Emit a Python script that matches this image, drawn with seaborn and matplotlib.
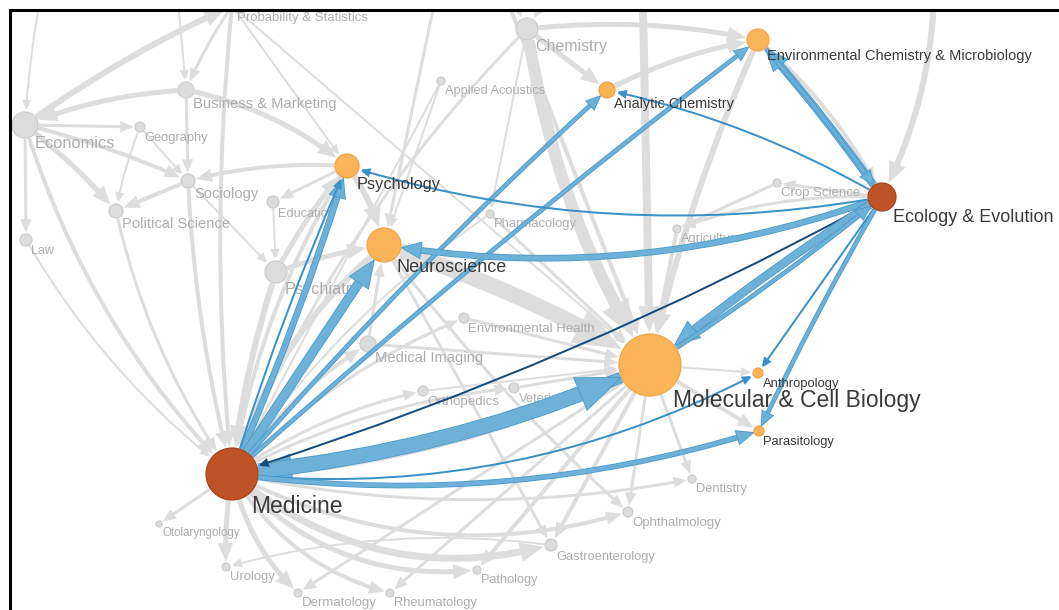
import numpy as np
import pandas as pd
import matplotlib
matplotlib.use("Agg")
import matplotlib.pyplot as plt
import seaborn as sns
from matplotlib.patches import FancyArrowPatch, ArrowStyle
import matplotlib.patheffects as pe

# ---------------- data ----------------
node_names = [
    "Probability & Statistics", "Business & Marketing", "Economics", "Geography",
    "Sociology", "Political Science", "Law", "Education", "Psychiatry", "Chemistry",
    "Applied Acoustics", "Pharmacology", "Crop Science", "Agriculture",
    "Environmental Health", "Medical Imaging", "Orthopedics", "Veterinary",
    "Dentistry", "Ophthalmology", "Gastroenterology", "Pathology", "Rheumatology",
    "Dermatology", "Urology", "Otolaryngology",
    "Environmental Chemistry & Microbiology", "Analytic Chemistry", "Psychology",
    "Neuroscience", "Molecular & Cell Biology", "Anthropology", "Parasitology",
    "Ecology & Evolution", "Medicine",
    "Mathematics", "Computer Science", "Physics", "Engineering", "Earth Sciences",
]
node_x = [232, 186, 25, 140, 188, 116, 26, 273, 276, 527,
          441, 490, 777, 677, 464, 368, 423, 514, 692, 628,
          551, 477, 390, 298, 226, 159,
          758, 607, 347, 384, 650, 758, 759, 882, 232,
          60, 170, 640, 460, 930]
node_y = [6, 90, 125, 127, 181, 211, 240, 202, 272, 29,
          81, 214, 183, 229, 318, 344, 391, 388, 479, 512,
          545, 570, 593, 593, 567, 524,
          40, 90, 166, 245, 365, 373, 431, 197, 474,
          -90, -90, -150, -120, -90]
node_size = [6, 8, 13, 5, 7, 7, 6, 6, 11, 11,
             4, 4, 4, 4, 5, 8, 5, 5, 4, 5,
             6, 4, 4, 4, 4, 3,
             11, 8, 12, 17, 31, 5, 5, 14, 26,
             0, 0, 0, 0, 0]
node_group = (["field"] * 26 + ["linked"] * 7 + ["focus"] * 2 + ["hidden"] * 5)

# gray (background) citation flows
gray_src = ["Economics", "Mathematics", "Computer Science", "Probability & Statistics",
            "Business & Marketing", "Business & Marketing", "Business & Marketing",
            "Economics", "Economics", "Economics", "Economics", "Geography", "Geography",
            "Sociology", "Psychology", "Sociology", "Psychology", "Education", "Psychiatry",
            "Psychiatry", "Psychology", "Law", "Economics", "Political Science", "Sociology",
            "Probability & Statistics", "Psychiatry", "Neuroscience", "Psychology", "Medicine",
            "Medical Imaging", "Neuroscience", "Chemistry", "Chemistry", "Chemistry",
            "Analytic Chemistry", "Chemistry", "Chemistry", "Applied Acoustics",
            "Probability & Statistics", "Probability & Statistics", "Physics", "Physics",
            "Engineering", "Engineering", "Earth Sciences",
            "Environmental Chemistry & Microbiology", "Environmental Chemistry & Microbiology",
            "Ecology & Evolution", "Crop Science", "Agriculture", "Pharmacology",
            "Pharmacology", "Medicine", "Environmental Health", "Medical Imaging", "Medicine",
            "Orthopedics", "Medicine", "Veterinary", "Molecular & Cell Biology",
            "Molecular & Cell Biology", "Medicine", "Medicine", "Medicine", "Medicine",
            "Medicine", "Medicine", "Medicine", "Medicine", "Molecular & Cell Biology",
            "Molecular & Cell Biology", "Molecular & Cell Biology", "Molecular & Cell Biology",
            "Molecular & Cell Biology", "Molecular & Cell Biology", "Neuroscience",
            "Gastroenterology", "Molecular & Cell Biology", "Neuroscience",
            "Ecology & Evolution", "Applied Acoustics", "Engineering"]
gray_dst = ["Probability & Statistics", "Economics", "Business & Marketing",
            "Business & Marketing", "Economics", "Sociology", "Psychology", "Geography",
            "Sociology", "Political Science", "Law", "Political Science", "Sociology",
            "Political Science", "Sociology", "Psychiatry", "Education", "Psychiatry",
            "Psychology", "Neuroscience", "Neuroscience", "Medicine", "Medicine", "Medicine",
            "Medicine", "Medicine", "Medicine", "Medicine", "Medicine", "Medical Imaging",
            "Neuroscience", "Molecular & Cell Biology", "Molecular & Cell Biology",
            "Analytic Chemistry", "Environmental Chemistry & Microbiology",
            "Environmental Chemistry & Microbiology", "Medicine", "Pharmacology",
            "Neuroscience", "Psychology", "Molecular & Cell Biology",
            "Molecular & Cell Biology", "Chemistry", "Molecular & Cell Biology", "Chemistry",
            "Ecology & Evolution", "Ecology & Evolution", "Molecular & Cell Biology",
            "Crop Science", "Agriculture", "Molecular & Cell Biology",
            "Molecular & Cell Biology", "Medicine", "Environmental Health",
            "Molecular & Cell Biology", "Molecular & Cell Biology", "Orthopedics",
            "Molecular & Cell Biology", "Veterinary", "Molecular & Cell Biology",
            "Anthropology", "Parasitology", "Otolaryngology", "Urology", "Dermatology",
            "Rheumatology", "Pathology", "Gastroenterology", "Ophthalmology", "Dentistry",
            "Gastroenterology", "Ophthalmology", "Dentistry", "Pathology", "Rheumatology",
            "Dermatology", "Ophthalmology", "Urology", "Medicine", "Gastroenterology",
            "Agriculture", "Medicine", "Neuroscience"]
gray_w = [6, 2, 2, 3, 5, 3, 5, 3, 4, 5, 3, 2, 2, 4, 4, 2, 3, 2, 5, 5, 6, 2, 4, 3, 4,
          4, 6, 6, 4, 4, 3, 16, 12, 5, 5, 5, 3, 2, 2, 2, 2, 8, 4, 4, 3, 6, 4, 6, 3, 3,
          4, 3, 2, 3, 3, 3, 3, 2, 3, 3, 2, 4, 3, 5, 5, 4, 5, 7, 4, 3, 4, 3, 3, 4, 3, 3,
          3, 2, 10, 3, 3, 2, 3]

# highlighted (blue) citation flows
blue_src = ["Ecology & Evolution", "Environmental Chemistry & Microbiology", "Medicine",
            "Medicine", "Medicine", "Medicine", "Medicine", "Molecular & Cell Biology",
            "Medicine", "Ecology & Evolution", "Ecology & Evolution", "Ecology & Evolution",
            "Ecology & Evolution", "Ecology & Evolution", "Molecular & Cell Biology",
            "Ecology & Evolution", "Ecology & Evolution", "Medicine", "Medicine"]
blue_dst = ["Environmental Chemistry & Microbiology", "Ecology & Evolution", "Psychology",
            "Psychology", "Neuroscience", "Analytic Chemistry",
            "Environmental Chemistry & Microbiology", "Medicine", "Molecular & Cell Biology",
            "Medicine", "Neuroscience", "Psychology", "Analytic Chemistry",
            "Molecular & Cell Biology", "Ecology & Evolution", "Anthropology", "Parasitology",
            "Anthropology", "Parasitology"]
blue_w = [6, 3, 5, 2, 8, 3, 3, 10, 14, 2, 5, 2, 2, 7, 3, 2, 3, 2, 4]
blue_kind = ["light", "light", "light", "mid", "light", "light", "light", "light", "light",
             "navy", "light", "mid", "mid", "light", "light", "mid", "light", "mid", "light"]

# ---------------- style ----------------
gray_bend = [-0.05, 0.05, 0.0, 0.05, 0.08, 0.0, -0.12, 0.0, -0.05, -0.05, 0.0, 0.05, 0.0,
             0.0, 0.08, 0.0, 0.0, 0.0, -0.05, -0.05, -0.1, 0.1, 0.12, 0.1, 0.05, 0.05, 0.05,
             0.15, 0.1, -0.1, 0.0, -0.05, 0.1, 0.0, -0.08, -0.08, 0.1, 0.0, 0.0, 0.0, 0.0,
             0.0, 0.0, 0.0, 0.0, -0.15, -0.1, 0.05, 0.0, 0.0, 0.0, 0.0, 0.1, -0.1, 0.0, 0.0,
             -0.1, 0.0, -0.1, 0.0, 0.0, 0.0, 0.0, 0.05, 0.15, 0.2, 0.25, 0.25, 0.2, 0.1, 0.0,
             0.0, 0.0, 0.0, 0.0, 0.0, 0.05, 0.1, -0.1, 0.0, 0.1, 0.0, 0.0]
blue_bend = [0.03, -0.03, 0.03, -0.03, 0.0, -0.03, -0.02, -0.08, 0.08, -0.05, -0.13, -0.12,
             0.08, 0.03, 0.03, 0.0, 0.02, 0.15, 0.11]
label_pt = [9.5, 10.6, 11.8, 9.3, 10.6, 10.6, 9.0, 9.2, 11.7, 11.5,
            9.2, 9.4, 9.5, 9.2, 9.5, 10.6, 9.6, 9.3, 9.3, 9.5,
            9.3, 9.2, 9.3, 9.5, 9.4, 8.3,
            10.5, 10.4, 11.8, 13.0, 16.5, 9.4, 9.3, 13.0, 16.5,
            9, 9, 9, 9, 9]

GRAY_EDGE = "#dddddd"
BLUE = {"light": "#6db1d8", "mid": "#3a91c8", "navy": "#184b7d"}
BLUE_OUT = {"light": "#4a9acb", "mid": "#2f86bf", "navy": "#123d68"}

W, H = 1059, 610
PX = 0.72  # points per pixel at dpi 100

sns.set_theme(style="white")
plt.rcParams["font.family"] = ["Liberation Sans", "DejaVu Sans"]

nodes = pd.DataFrame({"name": node_names, "x": node_x, "y": node_y,
                      "size": node_size, "group": node_group})
pos = {n: (x, y) for n, x, y in zip(node_names, node_x, node_y)}
rad = dict(zip(node_names, node_size))

fig = plt.figure(figsize=(W / 100, H / 100), dpi=100)
ax = fig.add_axes([10 / W, 0, 1 - 10 / W, 1 - 10 / H])
ax.set_xlim(10, W)
ax.set_ylim(H, 10)


def draw_edge(s, t, w, color, bend, z, outline=None):
    lw = w * PX
    style = ArrowStyle("-|>", head_length=0.8 * lw + 4.0, head_width=0.3 * lw + 1.8)
    p = FancyArrowPatch(pos[s], pos[t], arrowstyle=style,
                        connectionstyle=f"arc3,rad={bend}", mutation_scale=1,
                        lw=lw, color=color, shrinkA=rad[s] * PX + 0.5,
                        shrinkB=rad[t] * PX + 1.0, zorder=z, joinstyle="miter",
                        capstyle="butt")
    if outline is not None:
        p.set_path_effects([pe.Stroke(linewidth=lw + 1.2, foreground=outline), pe.Normal()])
    ax.add_patch(p)


for s, t, w, b in zip(gray_src, gray_dst, gray_w, gray_bend):
    draw_edge(s, t, w, GRAY_EDGE, b, 1)

for s, t, w, k, b in zip(blue_src, blue_dst, blue_w, blue_kind, blue_bend):
    draw_edge(s, t, w, BLUE[k], b, 3, BLUE_OUT[k] if k == "light" else None)

# nodes
styles = {"field": ("#dcdcdc", "#cccccc", 2),
          "linked": ("#fcb458", "#f2a347", 4),
          "focus": ("#bf5326", "#a5441c", 4)}
for g, (fc, ec, z) in styles.items():
    sub = nodes[nodes.group == g]
    sizes = {r: (2 * r * PX) ** 2 for r in sub["size"].unique()}
    sns.scatterplot(data=sub, x="x", y="y", size="size", sizes=sizes, color=fc,
                    edgecolor=ec, linewidth=0.9, legend=False, ax=ax, zorder=z)

# labels
for n, x, y, r, g, fs in zip(node_names, node_x, node_y, node_size, node_group, label_pt):
    if g == "hidden":
        continue
    fpx = fs / PX
    tx = x + 0.7 * r + 1
    ty = y + 0.75 * r + 0.55 * fpx
    if g == "field":
        ax.text(tx, ty, n, fontsize=fs, color="#adadad", ha="left", va="center",
                zorder=2.5, clip_on=True)
    else:
        ax.text(tx, ty, n, fontsize=fs, color="#3a3a3a", ha="left", va="center",
                zorder=6, clip_on=True)

ax.set_xlim(10, W)
ax.set_ylim(H, 10)
ax.set(xlabel="", ylabel="", xticks=[], yticks=[])
for side in ["right", "bottom"]:
    ax.spines[side].set_visible(False)
for side in ["left", "top"]:
    ax.spines[side].set_visible(True)
    ax.spines[side].set_color("black")
    ax.spines[side].set_linewidth(2.2)
ax.set_facecolor("white")

fig.savefig("out.png", dpi=100, facecolor="white")
